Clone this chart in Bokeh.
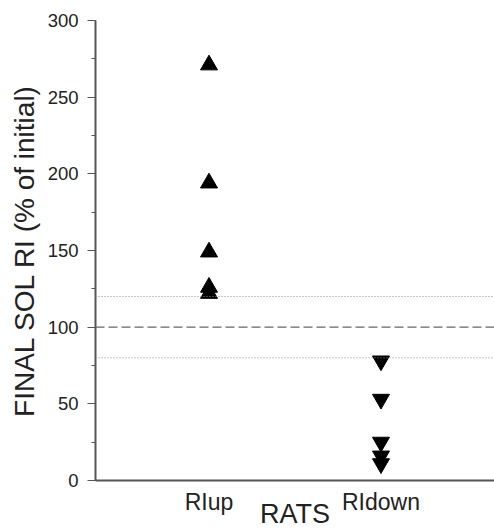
from bokeh.plotting import figure
from bokeh.models import Span, FixedTicker, Range1d, ColumnDataSource
from bokeh.embed import file_html
from bokeh.resources import INLINE

categories = ["RIup", "RIdown"]
cat_pos = [1, 2]
up_values = [271, 194, 149, 126, 122]
down_values = [78, 53, 25, 16, 11]
y_ticks = [0, 50, 100, 150, 200, 250, 300]
ref_dashed = 100
ref_dotted = [120, 80]

FONT = "Liberation Sans"

p = figure(width=494, height=531, output_backend="svg", toolbar_location=None,
           x_range=Range1d(0.34, 2.66), y_range=Range1d(0, 300),
           min_border_left=95, min_border_right=0, min_border_top=20, min_border_bottom=50)
p.outline_line_color = None
p.grid.visible = False
p.background_fill_color = "white"
p.border_fill_color = "white"

for v in ref_dotted:
    p.add_layout(Span(location=v, dimension="width", line_color="#8a8a8a",
                      line_dash="1 2", line_width=1))
p.add_layout(Span(location=ref_dashed, dimension="width", line_color="#666666",
                  line_dash="9 4", line_width=1.3))

src_up = ColumnDataSource(dict(x=[cat_pos[0]] * len(up_values), y=up_values))
src_dn = ColumnDataSource(dict(x=[cat_pos[1]] * len(down_values), y=down_values))
p.scatter("x", "y", source=src_up, marker="triangle", size=17, color="black")
p.scatter("x", "y", source=src_dn, marker="inverted_triangle", size=17, color="black")

# y axis
ya = p.yaxis[0]
ya.ticker = FixedTicker(ticks=y_ticks, minor_ticks=list(range(0, 301, 25)))
ya.axis_line_color = "#555555"
ya.axis_line_width = 2
ya.major_tick_line_color = "#555555"
ya.minor_tick_line_color = "#555555"
ya.major_tick_out = 8
ya.major_tick_in = 0
ya.minor_tick_out = 4
ya.minor_tick_in = 0
ya.major_label_text_font = FONT
ya.major_label_text_font_size = "18.5px"
ya.major_label_text_color = "#222222"
ya.major_label_standoff = 9
ya.axis_label = "FINAL SOL RI (% of initial)"
ya.axis_label_text_font = FONT
ya.axis_label_text_font_size = "28px"
ya.axis_label_text_font_style = "normal"
ya.axis_label_text_color = "#222222"
ya.axis_label_standoff = 5

# x axis
xa = p.xaxis[0]
xa.ticker = FixedTicker(ticks=cat_pos, minor_ticks=[])
xa.major_label_overrides = {cat_pos[i]: categories[i] for i in range(len(categories))}
xa.axis_line_color = "#555555"
xa.axis_line_width = 2
xa.major_tick_line_color = None
xa.minor_tick_line_color = None
xa.major_label_text_font = FONT
xa.major_label_text_font_size = "23px"
xa.major_label_text_color = "#222222"
xa.major_label_standoff = 2
xa.axis_label = "RATS"
xa.axis_label_text_font = FONT
xa.axis_label_text_font_size = "27px"
xa.axis_label_text_font_style = "normal"
xa.axis_label_text_color = "#222222"
xa.axis_label_text_line_height = 0.6
xa.axis_label_standoff = -19

open("out.html", "w").write(file_html(p, INLINE))
